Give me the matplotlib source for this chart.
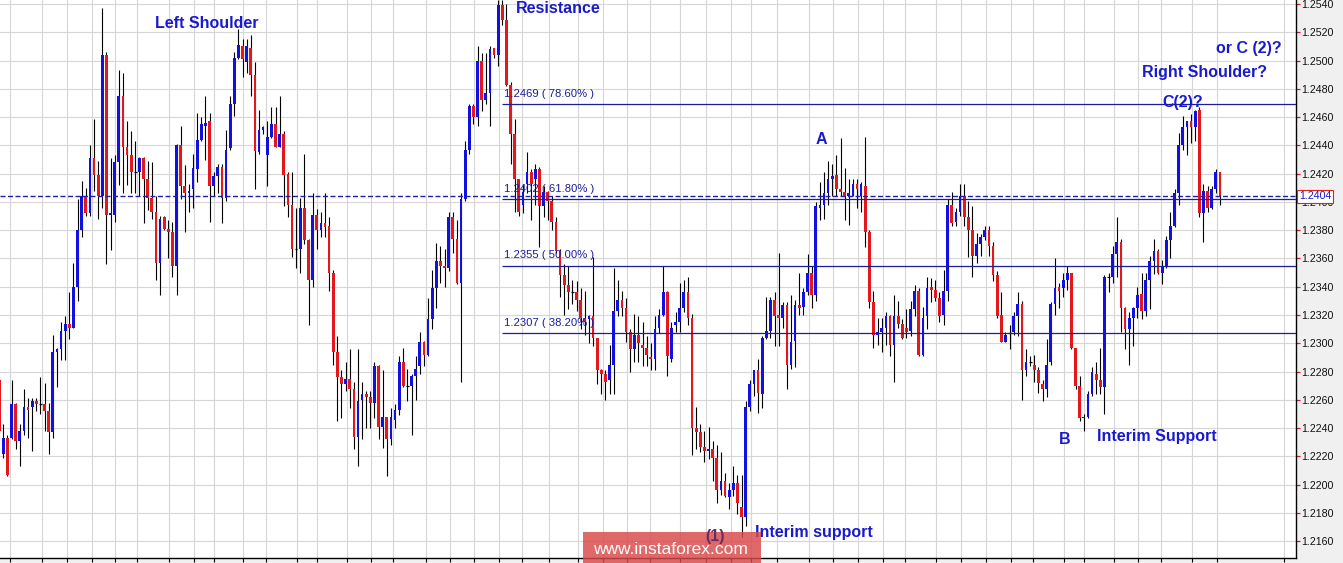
"""EURUSD-style candlestick chart with Fibonacci levels and wave labels."""

import matplotlib

matplotlib.use("Agg")
import matplotlib.pyplot as plt
import matplotlib.transforms as mtransforms
from matplotlib.patches import Rectangle
import numpy as np

plt.rcParams["font.family"] = ["Liberation Sans", "DejaVu Sans"]

# ---- data ----
opens = [
    1.2274, 1.2222, 1.2233, 1.2233, 1.2257, 1.2231, 1.2238, 1.2255, 1.2255, 1.2259,
    1.2257, 1.2257, 1.2252, 1.2237, 1.2294, 1.2296, 1.2309, 1.2314, 1.2311, 1.2340,
    1.2380, 1.2404, 1.2392, 1.2431, 1.2419, 1.2404, 1.2504, 1.2391, 1.2391, 1.2428,
    1.2475, 1.2439, 1.2433, 1.2421, 1.2421, 1.2431, 1.2416, 1.2403, 1.2393, 1.2357,
    1.2389, 1.2381, 1.2379, 1.2355, 1.2440, 1.2411, 1.2406, 1.2409, 1.2423, 1.2444,
    1.2454, 1.2457, 1.2411, 1.2418, 1.2425, 1.2403, 1.2438, 1.2469, 1.2502, 1.2510,
    1.2499, 1.2509, 1.2490, 1.2435, 1.2451, 1.2433, 1.2446, 1.2455, 1.2439, 1.2448,
    1.2420, 1.2398, 1.2367, 1.2367, 1.2396, 1.2373, 1.2345, 1.2391, 1.2380, 1.2385,
    1.2383, 1.2350, 1.2294, 1.2276, 1.2271, 1.2275, 1.2268, 1.2234, 1.2260, 1.2264,
    1.2262, 1.2258, 1.2284, 1.2241, 1.2248, 1.2232, 1.2246, 1.2253, 1.2287, 1.2270,
    1.2270, 1.2277, 1.2284, 1.2301, 1.2292, 1.2317, 1.2339, 1.2358, 1.2355, 1.2353,
    1.2389, 1.2374, 1.2343, 1.2402, 1.2437, 1.2468, 1.2460, 1.2500, 1.2472, 1.2477,
    1.2509, 1.2504, 1.2539, 1.2529, 1.2483, 1.2448, 1.2416, 1.2398, 1.2413, 1.2421,
    1.2416, 1.2423, 1.2397, 1.2407, 1.2401, 1.2386, 1.2365, 1.2348, 1.2341, 1.2336,
    1.2336, 1.2331, 1.2318, 1.2317, 1.2319, 1.2304, 1.2281, 1.2278, 1.2274, 1.2285,
    1.2323, 1.2331, 1.2325, 1.2308, 1.2296, 1.2306, 1.2299, 1.2297, 1.2290, 1.2289,
    1.2311, 1.2320, 1.2336, 1.2289, 1.2313, 1.2315, 1.2325, 1.2336, 1.2318, 1.2240,
    1.2237, 1.2227, 1.2224, 1.2225, 1.2219, 1.2196, 1.2203, 1.2191, 1.2196, 1.2201,
    1.2184, 1.2177, 1.2255, 1.2271, 1.2281, 1.2264, 1.2304, 1.2309, 1.2331, 1.2320,
    1.2318, 1.2327, 1.2285, 1.2302, 1.2327, 1.2326, 1.2336, 1.2350, 1.2334, 1.2396,
    1.2398, 1.2406, 1.2416, 1.2419, 1.2409, 1.2407, 1.2404, 1.2404, 1.2413, 1.2404,
    1.2411, 1.2379, 1.2329, 1.2306, 1.2308, 1.2311, 1.2319, 1.2299, 1.2319, 1.2314,
    1.2311, 1.2309, 1.2324, 1.2337, 1.2292, 1.2319, 1.2340, 1.2338, 1.2332, 1.2320,
    1.2337, 1.2398, 1.2386, 1.2393, 1.2404, 1.2389, 1.2380, 1.2362, 1.2370, 1.2375,
    1.2380, 1.2369, 1.2348, 1.2320, 1.2301, 1.2307, 1.2308, 1.2319, 1.2328, 1.2281,
    1.2287, 1.2285, 1.2281, 1.2271, 1.2268, 1.2287, 1.2328, 1.2340, 1.2339, 1.2345,
    1.2350, 1.2297, 1.2270, 1.2247, 1.2248, 1.2264, 1.2278, 1.2274, 1.2269, 1.2347,
    1.2347, 1.2363, 1.2372, 1.2325, 1.2310, 1.2318, 1.2325, 1.2335, 1.2323, 1.2345,
    1.2358, 1.2365, 1.2350, 1.2355, 1.2373, 1.2383, 1.2406, 1.2440, 1.2453, 1.2457,
    1.2453, 1.2465, 1.2392, 1.2408, 1.2396, 1.2409, 1.2421,
]
highs = [
    1.2276, 1.2243, 1.2235, 1.2274, 1.2258, 1.2243, 1.2268, 1.2261, 1.2261, 1.2261,
    1.2276, 1.2272, 1.2258, 1.2306, 1.2297, 1.2315, 1.2319, 1.2336, 1.2357, 1.2402,
    1.2415, 1.2410, 1.2440, 1.2459, 1.2429, 1.2537, 1.2506, 1.2431, 1.2433, 1.2493,
    1.2491, 1.2457, 1.2450, 1.2443, 1.2432, 1.2432, 1.2429, 1.2428, 1.2404, 1.2390,
    1.2390, 1.2387, 1.2386, 1.2441, 1.2454, 1.2426, 1.2413, 1.2434, 1.2463, 1.2460,
    1.2475, 1.2463, 1.2421, 1.2427, 1.2427, 1.2451, 1.2475, 1.2506, 1.2522, 1.2515,
    1.2515, 1.2518, 1.2499, 1.2465, 1.2454, 1.2457, 1.2467, 1.2467, 1.2475, 1.2450,
    1.2421, 1.2421, 1.2396, 1.2403, 1.2434, 1.2374, 1.2406, 1.2395, 1.2393, 1.2406,
    1.2389, 1.2352, 1.2305, 1.2281, 1.2287, 1.2296, 1.2273, 1.2296, 1.2273, 1.2266,
    1.2266, 1.2287, 1.2285, 1.2281, 1.2248, 1.2254, 1.2257, 1.2291, 1.2297, 1.2282,
    1.2278, 1.2291, 1.2308, 1.2302, 1.2332, 1.2352, 1.2371, 1.2369, 1.2367, 1.2393,
    1.2393, 1.2387, 1.2406, 1.2443, 1.2469, 1.2469, 1.2510, 1.2505, 1.2505, 1.2510,
    1.2509, 1.2543, 1.2543, 1.2540, 1.2485, 1.2459, 1.2416, 1.2413, 1.2435, 1.2423,
    1.2427, 1.2425, 1.2411, 1.2408, 1.2404, 1.2389, 1.2367, 1.2356, 1.2355, 1.2345,
    1.2344, 1.2339, 1.2337, 1.2320, 1.2361, 1.2304, 1.2282, 1.2281, 1.2299, 1.2353,
    1.2345, 1.2337, 1.2332, 1.2310, 1.2321, 1.2319, 1.2315, 1.2305, 1.2300, 1.2319,
    1.2324, 1.2355, 1.2337, 1.2315, 1.2322, 1.2343, 1.2345, 1.2347, 1.2321, 1.2255,
    1.2243, 1.2238, 1.2241, 1.2231, 1.2228, 1.2223, 1.2208, 1.2201, 1.2213, 1.2207,
    1.2207, 1.2259, 1.2274, 1.2281, 1.2289, 1.2305, 1.2333, 1.2333, 1.2336, 1.2364,
    1.2329, 1.2329, 1.2334, 1.2331, 1.2350, 1.2339, 1.2363, 1.2355, 1.2400, 1.2414,
    1.2421, 1.2429, 1.2427, 1.2433, 1.2445, 1.2424, 1.2416, 1.2416, 1.2416, 1.2414,
    1.2446, 1.2380, 1.2337, 1.2318, 1.2318, 1.2322, 1.2320, 1.2334, 1.2330, 1.2317,
    1.2324, 1.2330, 1.2341, 1.2339, 1.2326, 1.2347, 1.2346, 1.2345, 1.2336, 1.2352,
    1.2402, 1.2407, 1.2396, 1.2413, 1.2413, 1.2401, 1.2397, 1.2378, 1.2377, 1.2383,
    1.2383, 1.2372, 1.2351, 1.2336, 1.2308, 1.2313, 1.2322, 1.2336, 1.2330, 1.2296,
    1.2291, 1.2292, 1.2283, 1.2274, 1.2303, 1.2329, 1.2360, 1.2343, 1.2350, 1.2355,
    1.2350, 1.2297, 1.2277, 1.2250, 1.2266, 1.2283, 1.2287, 1.2297, 1.2348, 1.2350,
    1.2369, 1.2389, 1.2374, 1.2326, 1.2322, 1.2326, 1.2340, 1.2350, 1.2350, 1.2362,
    1.2374, 1.2367, 1.2359, 1.2376, 1.2393, 1.2409, 1.2449, 1.2461, 1.2457, 1.2462,
    1.2465, 1.2467, 1.2413, 1.2411, 1.2411, 1.2423, 1.2421,
]
lows = [
    1.2232, 1.2219, 1.2206, 1.2232, 1.2225, 1.2213, 1.2235, 1.2233, 1.2224, 1.2252,
    1.2250, 1.2238, 1.2222, 1.2233, 1.2269, 1.2288, 1.2288, 1.2303, 1.2311, 1.2330,
    1.2375, 1.2390, 1.2390, 1.2408, 1.2388, 1.2396, 1.2356, 1.2366, 1.2386, 1.2412,
    1.2406, 1.2412, 1.2406, 1.2406, 1.2404, 1.2385, 1.2394, 1.2388, 1.2345, 1.2334,
    1.2380, 1.2360, 1.2347, 1.2334, 1.2402, 1.2379, 1.2393, 1.2396, 1.2414, 1.2443,
    1.2430, 1.2386, 1.2404, 1.2406, 1.2385, 1.2401, 1.2437, 1.2461, 1.2501, 1.2488,
    1.2491, 1.2475, 1.2409, 1.2434, 1.2448, 1.2411, 1.2445, 1.2439, 1.2439, 1.2397,
    1.2389, 1.2361, 1.2353, 1.2350, 1.2370, 1.2313, 1.2340, 1.2367, 1.2375, 1.2375,
    1.2337, 1.2285, 1.2245, 1.2247, 1.2266, 1.2254, 1.2225, 1.2213, 1.2232, 1.2240,
    1.2240, 1.2247, 1.2232, 1.2226, 1.2206, 1.2228, 1.2240, 1.2249, 1.2269, 1.2259,
    1.2235, 1.2260, 1.2278, 1.2284, 1.2291, 1.2310, 1.2325, 1.2343, 1.2340, 1.2351,
    1.2364, 1.2342, 1.2273, 1.2401, 1.2434, 1.2455, 1.2454, 1.2464, 1.2469, 1.2454,
    1.2502, 1.2496, 1.2525, 1.2482, 1.2427, 1.2393, 1.2390, 1.2392, 1.2406, 1.2387,
    1.2398, 1.2368, 1.2389, 1.2387, 1.2380, 1.2364, 1.2333, 1.2320, 1.2324, 1.2328,
    1.2323, 1.2310, 1.2306, 1.2300, 1.2298, 1.2271, 1.2264, 1.2260, 1.2264, 1.2264,
    1.2319, 1.2319, 1.2301, 1.2280, 1.2287, 1.2287, 1.2284, 1.2284, 1.2281, 1.2281,
    1.2307, 1.2319, 1.2277, 1.2287, 1.2308, 1.2308, 1.2322, 1.2313, 1.2221, 1.2225,
    1.2223, 1.2216, 1.2218, 1.2203, 1.2187, 1.2193, 1.2191, 1.2183, 1.2192, 1.2179,
    1.2163, 1.2171, 1.2252, 1.2263, 1.2251, 1.2254, 1.2303, 1.2304, 1.2298, 1.2298,
    1.2311, 1.2268, 1.2282, 1.2283, 1.2320, 1.2320, 1.2334, 1.2325, 1.2330, 1.2387,
    1.2388, 1.2398, 1.2404, 1.2404, 1.2404, 1.2387, 1.2384, 1.2404, 1.2396, 1.2393,
    1.2368, 1.2325, 1.2297, 1.2299, 1.2294, 1.2299, 1.2291, 1.2273, 1.2311, 1.2303,
    1.2304, 1.2305, 1.2319, 1.2291, 1.2291, 1.2310, 1.2329, 1.2330, 1.2315, 1.2313,
    1.2330, 1.2383, 1.2383, 1.2390, 1.2383, 1.2361, 1.2347, 1.2357, 1.2362, 1.2373,
    1.2362, 1.2344, 1.2318, 1.2301, 1.2301, 1.2296, 1.2306, 1.2305, 1.2260, 1.2277,
    1.2284, 1.2273, 1.2265, 1.2259, 1.2262, 1.2285, 1.2320, 1.2325, 1.2333, 1.2338,
    1.2296, 1.2268, 1.2245, 1.2238, 1.2247, 1.2263, 1.2264, 1.2264, 1.2250, 1.2336,
    1.2343, 1.2347, 1.2308, 1.2296, 1.2285, 1.2298, 1.2318, 1.2317, 1.2319, 1.2324,
    1.2349, 1.2349, 1.2342, 1.2353, 1.2360, 1.2382, 1.2398, 1.2437, 1.2433, 1.2442,
    1.2443, 1.2389, 1.2372, 1.2393, 1.2395, 1.2406, 1.2398,
]
closes = [
    1.2238, 1.2233, 1.2207, 1.2257, 1.2231, 1.2238, 1.2255, 1.2253, 1.2259, 1.2257,
    1.2257, 1.2252, 1.2237, 1.2294, 1.2296, 1.2309, 1.2314, 1.2311, 1.2340, 1.2380,
    1.2404, 1.2392, 1.2431, 1.2419, 1.2404, 1.2504, 1.2391, 1.2392, 1.2428, 1.2475,
    1.2439, 1.2433, 1.2421, 1.2421, 1.2431, 1.2416, 1.2403, 1.2393, 1.2357, 1.2388,
    1.2381, 1.2379, 1.2355, 1.2440, 1.2411, 1.2406, 1.2408, 1.2424, 1.2444, 1.2455,
    1.2456, 1.2411, 1.2418, 1.2425, 1.2403, 1.2437, 1.2469, 1.2502, 1.2511, 1.2501,
    1.2510, 1.2490, 1.2436, 1.2451, 1.2453, 1.2446, 1.2455, 1.2439, 1.2448, 1.2419,
    1.2398, 1.2367, 1.2367, 1.2396, 1.2373, 1.2345, 1.2391, 1.2380, 1.2385, 1.2382,
    1.2350, 1.2294, 1.2276, 1.2271, 1.2275, 1.2268, 1.2234, 1.2259, 1.2264, 1.2262,
    1.2258, 1.2284, 1.2241, 1.2248, 1.2232, 1.2248, 1.2253, 1.2287, 1.2270, 1.2270,
    1.2277, 1.2282, 1.2301, 1.2292, 1.2317, 1.2339, 1.2358, 1.2355, 1.2353, 1.2389,
    1.2374, 1.2343, 1.2402, 1.2437, 1.2468, 1.2460, 1.2500, 1.2472, 1.2477, 1.2508,
    1.2504, 1.2539, 1.2529, 1.2483, 1.2448, 1.2416, 1.2393, 1.2407, 1.2421, 1.2413,
    1.2423, 1.2397, 1.2407, 1.2401, 1.2386, 1.2365, 1.2348, 1.2341, 1.2336, 1.2336,
    1.2331, 1.2318, 1.2315, 1.2319, 1.2304, 1.2281, 1.2278, 1.2273, 1.2285, 1.2323,
    1.2331, 1.2325, 1.2308, 1.2296, 1.2306, 1.2300, 1.2297, 1.2292, 1.2289, 1.2310,
    1.2320, 1.2336, 1.2291, 1.2311, 1.2315, 1.2325, 1.2336, 1.2318, 1.2240, 1.2237,
    1.2227, 1.2224, 1.2225, 1.2219, 1.2196, 1.2203, 1.2192, 1.2196, 1.2201, 1.2187,
    1.2177, 1.2255, 1.2271, 1.2281, 1.2265, 1.2304, 1.2309, 1.2331, 1.2319, 1.2318,
    1.2327, 1.2285, 1.2301, 1.2327, 1.2325, 1.2336, 1.2350, 1.2334, 1.2397, 1.2398,
    1.2406, 1.2416, 1.2418, 1.2409, 1.2407, 1.2404, 1.2406, 1.2413, 1.2409, 1.2413,
    1.2379, 1.2329, 1.2306, 1.2308, 1.2311, 1.2319, 1.2299, 1.2319, 1.2314, 1.2304,
    1.2308, 1.2324, 1.2337, 1.2292, 1.2318, 1.2339, 1.2338, 1.2332, 1.2319, 1.2337,
    1.2398, 1.2385, 1.2393, 1.2404, 1.2389, 1.2380, 1.2362, 1.2370, 1.2375, 1.2380,
    1.2369, 1.2348, 1.2319, 1.2301, 1.2306, 1.2307, 1.2319, 1.2328, 1.2281, 1.2287,
    1.2287, 1.2281, 1.2272, 1.2268, 1.2285, 1.2328, 1.2339, 1.2337, 1.2345, 1.2350,
    1.2297, 1.2270, 1.2247, 1.2248, 1.2264, 1.2280, 1.2274, 1.2269, 1.2347, 1.2347,
    1.2363, 1.2372, 1.2325, 1.2310, 1.2318, 1.2325, 1.2334, 1.2323, 1.2345, 1.2358,
    1.2365, 1.2350, 1.2355, 1.2373, 1.2383, 1.2406, 1.2440, 1.2453, 1.2457, 1.2453,
    1.2464, 1.2392, 1.2408, 1.2396, 1.2409, 1.2421, 1.2404,
]

price_ticks = [
    1.2160, 1.2180, 1.2200, 1.2220, 1.2240, 1.2260, 1.2280, 1.2300, 1.2320, 1.2340,
    1.2360, 1.2380, 1.2400, 1.2420, 1.2440, 1.2460, 1.2480, 1.2500, 1.2520, 1.2540,
]
# bar positions of the vertical (session) grid lines
session_lines = [
    2.6, 10.3, 16.4, 22.4, 28.1, 33.5, 41.2, 47.3, 52.2, 59.2, 64.6, 72.3, 77.1,
    84.3, 90.2, 95.6, 103.4, 109.3, 115.2, 121.3, 126.7, 133.3, 140.3, 146.3,
    152.3, 157.8, 165.1, 171.4, 177.4, 182.2, 188.7, 196.4, 202.3, 208.3, 214.2,
    219.6, 227.2, 233.2, 239.2, 245.3, 250.6, 258.3, 263.1, 270.2, 276.2, 281.7,
    289.3, 295.2, 311.6,
]
fib_levels = [1.2469, 1.2402, 1.2355, 1.2307]
fib_labels = ["1.2469 ( 78.60% )", "1.2402 ( 61.80% )", "1.2355 ( 50.00% )", "1.2307 ( 38.20% )"]
fib_anchor = 121.8  # where the retracement lines start (swing high)
last_price = 1.2404

# ---- layout ----
W, H = 1343, 563
AX_RIGHT, AX_BOTTOM = 1296, 558  # pixel extents of the plot area
BLUE = "#1010e0"
RED = "#e3171c"
NAVY = "#1c1c9e"
LABEL_BLUE = "#1a1acd"
GRID = "#d6d6d6"

fig = plt.figure(figsize=(W / 100, H / 100), dpi=100, facecolor="#f0f0f0")
ax = fig.add_axes([0, (H - AX_BOTTOM) / H, AX_RIGHT / W, AX_BOTTOM / H])
ax.set_facecolor("white")

o = np.array(opens)
h = np.array(highs)
l = np.array(lows)
c = np.array(closes)
x = np.arange(len(o))
up = c > o
down = c < o
flat = c == o
body_w = 0.66

ax.vlines(x, l, h, color="black", lw=0.8, zorder=2)
ax.bar(x[up], (c - o)[up], bottom=o[up], width=body_w, color=BLUE, lw=0, zorder=3)
ax.bar(x[down], (o - c)[down], bottom=c[down], width=body_w, color=RED, lw=0, zorder=3)
ax.hlines(o[flat], x[flat] - body_w / 2, x[flat] + body_w / 2, color="black", lw=0.9, zorder=3)

x_left, x_right = 0.194, 314.45
ax.set_xlim(x_left, x_right)
ax.set_ylim(1.21482, 1.25428)

# grid
ax.set_xticks(session_lines)
ax.set_yticks(price_ticks)
ax.set_yticklabels([f"{v:.4f}" for v in price_ticks])
ax.grid(True, color=GRID, lw=0.8, zorder=0)
ax.set_axisbelow(True)

ax.yaxis.tick_right()
ax.tick_params(axis="y", direction="out", length=3, width=0.9, color=RED,
               labelsize=7.7, labelcolor="#111111", pad=1)
ax.tick_params(axis="x", direction="out", length=3, width=0.8, color="black",
               labelbottom=False)
for side in ("left", "top"):
    ax.spines[side].set_visible(False)
for side in ("right", "bottom"):
    ax.spines[side].set_color("black")
    ax.spines[side].set_linewidth(1.0)

# Fibonacci retracement levels
ax.hlines(fib_levels, fib_anchor, x_right, color=NAVY, lw=0.9, zorder=4)
for lvl, txt in zip(fib_levels, fib_labels):
    ax.annotate(txt, xy=(fib_anchor, lvl), xytext=(2.0, 5.2), textcoords="offset points",
                fontsize=8.1, color=NAVY, ha="left", va="baseline", zorder=5)

# current price
ax.axhline(last_price, color="#2020a8", lw=1.0, dashes=(3.6, 1.8), zorder=4)
trans = mtransforms.blended_transform_factory(ax.transAxes, ax.transData)
ax.text(1.0 + 3 / AX_RIGHT, last_price, f"{last_price:.4f}", transform=trans,
        ha="left", va="center", fontsize=7.7, color=LABEL_BLUE, clip_on=False, zorder=10,
        bbox=dict(boxstyle="square,pad=0.15", fc="white", ec="#e02020", lw=0.8))


def px(xp, yp):
    """pixel position -> axes fraction"""
    return xp / AX_RIGHT, 1 - yp / AX_BOTTOM


notes = [
    ("Left Shoulder", 155, 24, "left"),
    ("Resistance", 516, 8.5, "left"),
    ("A", 821, 139, "center"),
    ("Interim support", 755, 532, "left"),
    ("B", 1065, 439, "center"),
    ("Interim Support", 1097, 437, "left"),
    ("C(2)?", 1162, 102, "left"),
    ("Right Shoulder?", 1142, 72.5, "left"),
    ("or C (2)?", 1216, 49, "left"),
]
for txt, xp, yp, ha in notes:
    fx, fy = px(xp, yp)
    ax.text(fx, fy, txt, transform=ax.transAxes, ha=ha, va="center",
            fontsize=11.5, fontweight="bold", color=LABEL_BLUE, zorder=6)

# watermark
fig.add_artist(Rectangle((583 / W, 0), 178 / W, 31 / H, transform=fig.transFigure,
                         fc="#d94848", ec="none", alpha=0.82, zorder=5))
fig.text(670.5 / W, (H - 549) / H, "www.instaforex.com", color="white",
         fontsize=12.5, ha="center", va="center", zorder=6)
fig.text(705 / W, (H - 536) / H, "(1)", color="#6a2a62", fontsize=11.5,
         fontweight="bold", ha="left", va="center", zorder=6)

fig.savefig("out.png", dpi=100, facecolor=fig.get_facecolor())
